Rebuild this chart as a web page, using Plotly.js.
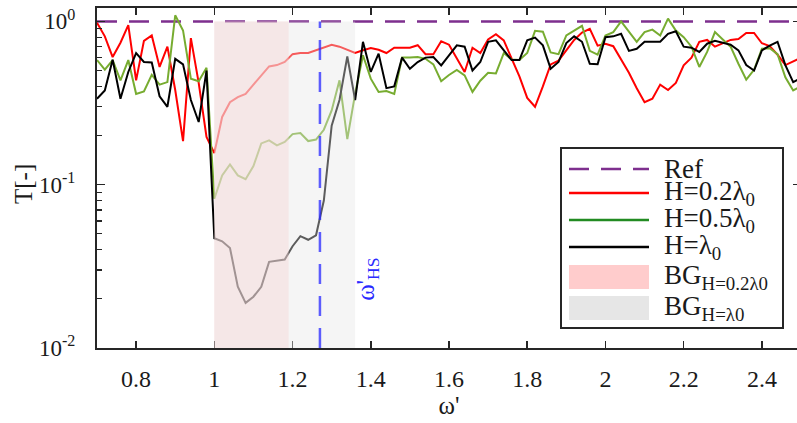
<!DOCTYPE html>
<html><head><meta charset="utf-8">
<script src="https://cdn.plot.ly/plotly-3.0.1.min.js"></script>
<style>html,body{margin:0;padding:0;overflow:hidden;background:#fff}#chart{width:805px;height:423px}</style>
</head><body><div id="chart"></div>
<script>
// ---- data ----
const omega = [0.70,0.72,0.74,0.76,0.78,0.80,0.82,0.84,0.86,0.88,0.90,0.92,0.94,0.96,0.98,
  1.00,1.02,1.04,1.06,1.08,1.10,1.12,1.14,1.16,1.18,1.20,1.22,1.24,1.26,1.28,1.30,1.32,1.34,1.36,1.38,
  1.40,1.42,1.44,1.46,1.48,1.50,1.52,1.54,1.56,1.58,1.60,1.62,1.64,1.66,1.68,1.70,1.72,1.74,1.76,1.78,
  1.80,1.82,1.84,1.86,1.88,1.90,1.92,1.94,1.96,1.98,2.00,2.02,2.04,2.06,2.08,2.10,2.12,2.14,2.16,2.18,
  2.20,2.22,2.24,2.26,2.28,2.30,2.32,2.34,2.36,2.38,2.40,2.42,2.44,2.46,2.48,2.50];
const T_H02 = [0.98,0.81,0.605,0.74,0.95,0.435,0.76,0.82,0.526,0.70,0.38,0.185,0.79,0.42,0.196,
  0.156,0.26,0.32,0.344,0.36,0.41,0.47,0.53,0.54,0.565,0.63,0.64,0.64,0.665,0.69,0.72,0.70,0.67,0.64,0.665,
  0.687,0.67,0.64,0.69,0.69,0.69,0.715,0.63,0.63,0.755,0.72,0.59,0.49,0.69,0.64,0.775,0.835,0.765,0.59,0.46,
  0.34,0.30,0.40,0.545,0.575,0.665,0.77,0.855,0.90,0.71,0.73,0.705,0.59,0.485,0.39,0.32,0.336,0.41,0.38,0.42,
  0.538,0.60,0.75,0.77,0.70,0.735,0.77,0.78,0.85,0.85,0.735,0.705,0.625,0.54,0.57,0.60];
const T_H05 = [0.58,0.506,0.58,0.435,0.58,0.36,0.373,0.47,0.41,0.425,1.09,0.88,0.446,0.43,0.52,
  0.082,0.114,0.133,0.114,0.108,0.13,0.179,0.187,0.174,0.183,0.204,0.207,0.185,0.189,0.217,0.285,0.436,0.19,0.36,0.62,
  0.446,0.37,0.375,0.36,0.60,0.60,0.605,0.59,0.545,0.43,0.47,0.505,0.467,0.37,0.433,0.485,0.48,0.64,0.585,0.58,
  0.64,0.875,0.865,0.645,0.63,0.82,0.88,0.94,0.66,0.625,0.82,0.86,1.0,0.86,0.75,0.86,0.89,0.82,1.04,0.88,
  0.80,0.70,0.526,0.65,0.86,0.775,0.70,0.55,0.44,0.505,0.68,0.685,0.63,0.455,0.378,0.40];
const T_H1 = [0.336,0.378,0.583,0.336,0.49,0.64,0.564,0.56,0.348,0.30,0.59,0.546,0.33,0.242,0.50,
  0.047,0.045,0.041,0.0237,0.0189,0.0206,0.0237,0.0337,0.0342,0.0348,0.042,0.0484,0.046,0.049,0.08,0.23,0.33,0.61,0.33,0.75,
  0.49,0.634,0.39,0.40,0.60,0.513,0.564,0.60,0.605,0.538,0.62,0.713,0.70,0.50,0.564,0.75,0.765,0.67,0.58,0.58,
  0.765,0.795,0.713,0.513,0.564,0.737,0.81,0.75,0.55,0.546,0.80,0.81,0.84,0.66,0.68,0.75,0.75,0.75,0.84,0.87,
  0.70,0.69,0.65,0.73,0.76,0.74,0.72,0.665,0.54,0.50,0.665,0.71,0.75,0.54,0.425,0.45];
const refX = [0.7, 2.5];
const refY = [1, 1];
const bandH02 = [1.0, 1.19];   // BG for H=0.2 lambda0
const bandH1  = [1.0, 1.36];   // BG for H=lambda0
const bandY   = [0.01, 1];
const omegaHS = 1.27;
const xTickVals = [0.8,1.0,1.2,1.4,1.6,1.8,2.0,2.2,2.4];
const xTickText = ['0.8','1','1.2','1.4','1.6','1.8','2','2.2','2.4'];
const yTickVals = [0.01,0.1,1];
const yTickText = ['10<sup>-2</sup>','10<sup>-1</sup>','10<sup>0</sup>'];
const legendNames = ['Ref','H=0.2λ<sub>0</sub>','H=0.5λ<sub>0</sub>','H=λ<sub>0</sub>','BG<sub>H=0.2λ0</sub>','BG<sub>H=λ0</sub>'];

// ---- styling / layout ----
const W=805, H=423, L=97, R=4, T=8, B=75;
const FONT='"Liberation Serif","Times New Roman",serif';
const AX='#262626', TXT='#1a1a1a';
const cRed='#ff0000', cGreen='#77ac30', cBlack='#000000', cRef='#7e2f8e';
const px2x = p => (p-L)/(W-L-R);
const py2y = p => (H-B-p)/(H-T-B);

const traces = [
  {x:refX, y:refY, mode:'lines', line:{color:cRef, width:2.5, dash:'20px,12px'}, showlegend:false, hoverinfo:'skip'},
  {x:omega, y:T_H02, mode:'lines', line:{color:cRed, width:2}, showlegend:false},
  {x:omega, y:T_H05, mode:'lines', line:{color:cGreen, width:2}, showlegend:false},
  {x:omega, y:T_H1, mode:'lines', line:{color:cBlack, width:2}, showlegend:false}
];

const shapes = [
  {type:'rect', xref:'x', yref:'y', x0:bandH02[0], x1:bandH02[1], y0:bandY[0], y1:bandY[1],
   fillcolor:'#ffcccc', opacity:0.45, line:{width:0}, layer:'above'},
  {type:'rect', xref:'x', yref:'y', x0:bandH1[0], x1:bandH1[1], y0:bandY[0], y1:bandY[1],
   fillcolor:'#e6e6e6', opacity:0.4, line:{width:0}, layer:'above'},
  {type:'line', xref:'x', yref:'y', x0:omegaHS, x1:omegaHS, y0:bandY[0], y1:bandY[1],
   line:{color:'rgba(40,40,255,0.75)', width:2.5, dash:'20px,12px'}, layer:'above'}
];
const annotations = [
  {xref:'x', yref:'paper', x:1.39, y:py2y(279), text:"ω'<sub>HS</sub>", textangle:-90, showarrow:false,
   font:{family:FONT, size:25, color:'#2a2aff'}, xanchor:'center', yanchor:'middle'},
  {xref:'paper', yref:'paper', x:px2x(24), y:py2y(184), text:'T[-]', textangle:-90, showarrow:false,
   font:{family:FONT, size:25, color:TXT}, xanchor:'center', yanchor:'middle'}
];

// manual legend (MATLAB-like long samples)
const lgBox = {x0:561, x1:783, y0:148, y1:328};
shapes.push({type:'rect', xref:'paper', yref:'paper', x0:px2x(lgBox.x0), x1:px2x(lgBox.x1),
  y0:py2y(lgBox.y1), y1:py2y(lgBox.y0), fillcolor:'#ffffff', line:{color:AX, width:2}, layer:'above'});
const rowY = [169, 193, 220, 247, 277, 308];
const sx0 = 569, sx1 = 649, tx = 662;
const lineStyles = [
  {color:cRef, width:2.5, dash:'20px,12px'},
  {color:cRed, width:2.5},
  {color:'#228b22', width:2.5},
  {color:cBlack, width:2.5}
];
lineStyles.forEach((ls,i)=>{
  shapes.push({type:'line', xref:'paper', yref:'paper', x0:px2x(sx0), x1:px2x(sx1), y0:py2y(rowY[i]), y1:py2y(rowY[i]), line:ls, layer:'above'});
});
[['#ffcccc',4],['#e6e6e6',5]].forEach(([c,i])=>{
  shapes.push({type:'rect', xref:'paper', yref:'paper', x0:px2x(sx0), x1:px2x(sx1), y0:py2y(rowY[i]+12), y1:py2y(rowY[i]-12),
    fillcolor:c, line:{width:0}, layer:'above'});
});
legendNames.forEach((t,i)=>{
  annotations.push({xref:'paper', yref:'paper', x:px2x(tx), y:py2y(rowY[i]), text:t, showarrow:false,
    xanchor:'left', yanchor:'middle', font:{family:FONT, size:27, color:TXT}});
});

const layout = {
  width:W, height:H, margin:{l:L, r:R, t:T, b:B, pad:0},
  paper_bgcolor:'#fff', plot_bgcolor:'#fff', showlegend:false,
  font:{family:FONT, size:24, color:TXT},
  xaxis:{range:[refX[0], refX[1]], tickvals:xTickVals, ticktext:xTickText, ticks:'inside', ticklen:7, tickwidth:1.5,
    tickcolor:AX, showline:true, linecolor:AX, linewidth:2, mirror:'ticks', showgrid:false, zeroline:false,
    ticklabelstandoff:8, tickfont:{family:FONT, size:24, color:TXT},
    title:{text:"ω'", font:{family:FONT, size:25, color:TXT}, standoff:5}},
  yaxis:{type:'log', range:[-2, 0.082], tickvals:yTickVals, ticktext:yTickText, ticks:'inside', ticklen:8, tickwidth:1.5,
    tickcolor:AX, showline:true, linecolor:AX, linewidth:2, mirror:'ticks', showgrid:false, zeroline:false,
    minor:{ticks:'inside', ticklen:4.5, tickwidth:1.2, tickcolor:AX, dtick:'D1', showgrid:false},
    ticklabelstandoff:15, tickfont:{family:FONT, size:23, color:TXT}},
  shapes:shapes, annotations:annotations
};
Plotly.newPlot('chart', traces, layout, {displayModeBar:false, staticPlot:true});
</script></body></html>
